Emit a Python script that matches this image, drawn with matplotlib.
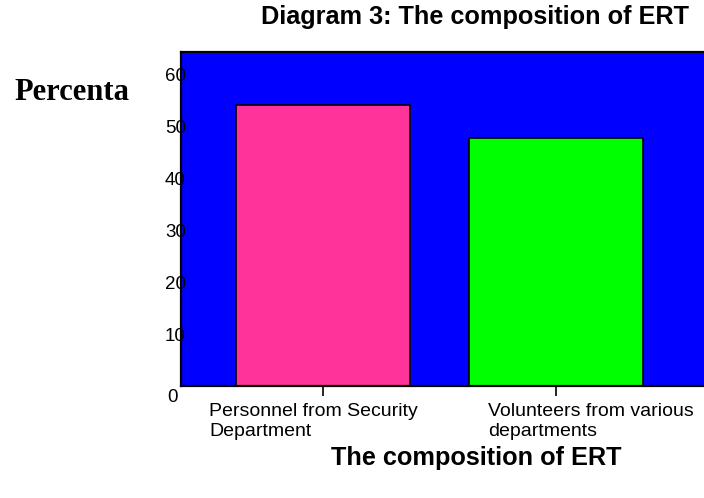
import matplotlib
matplotlib.use("Agg")
import matplotlib.pyplot as plt
import matplotlib.transforms as mtransforms

# data
categories = ["Personnel from Security\nDepartment", "Volunteers from various\ndepartments"]
percent = [54.1, 47.9]
bar_colors = ["#FF3399", "#00FF00"]
yticks = [0, 10, 20, 30, 40, 50, 60]

plt.rcParams["font.family"] = ["Liberation Sans", "DejaVu Sans"]

W, H = 704, 498
fig = plt.figure(figsize=(W / 100, H / 100), dpi=100)

# axes run off the right edge, like in the original
left, right, top, bottom = 181, 718, 52, 386
ax = fig.add_axes([left / W, 1 - bottom / H, (right - left) / W, (bottom - top) / H])
ax.set_facecolor("#0000FF")

xpos = list(range(len(categories)))
ax.bar(xpos, percent, width=0.746, color=bar_colors, edgecolor="black", linewidth=1.2)

ax.set_xlim(-0.608, 1.695)
ax.set_ylim(0, 64.4)
for s in ax.spines.values():
    s.set_linewidth(1.6)

ax.set_xticks(xpos)
ax.set_xticklabels([])
ax.tick_params(axis="x", length=7, width=1.2, direction="out")

ax.set_yticks(yticks)
ax.set_yticklabels([str(v) for v in yticks], fontsize=13.5)
ax.tick_params(axis="y", length=0, pad=-3.5)
# the 0 sits a little below and left of the axis corner
lab0 = ax.get_yticklabels()[0]
lab0.set_transform(lab0.get_transform() + mtransforms.ScaledTranslation(-8 / 100, -9 / 100, fig.dpi_scale_trans))

# category labels, left aligned under each bar
label_offsets = [-0.488, -0.292]
for x, off, name in zip(xpos, label_offsets, categories):
    ax.text(x + off, -0.052, name, transform=ax.get_xaxis_transform(),
            ha="left", va="top", fontsize=14, linespacing=1.22)

fig.text(475 / W, 1 - 17 / H, "Diagram 3: The composition of ERT",
         ha="center", va="center", fontsize=18.2, fontweight="bold")
fig.text(476 / W, 1 - 458 / H, "The composition of ERT",
         ha="center", va="center", fontsize=18.2, fontweight="bold")
fig.text(14 / W, 1 - 93 / H, "Percenta", family="Liberation Serif",
         ha="left", va="center", fontsize=22, fontweight="bold")

fig.savefig("out.png", dpi=100)
